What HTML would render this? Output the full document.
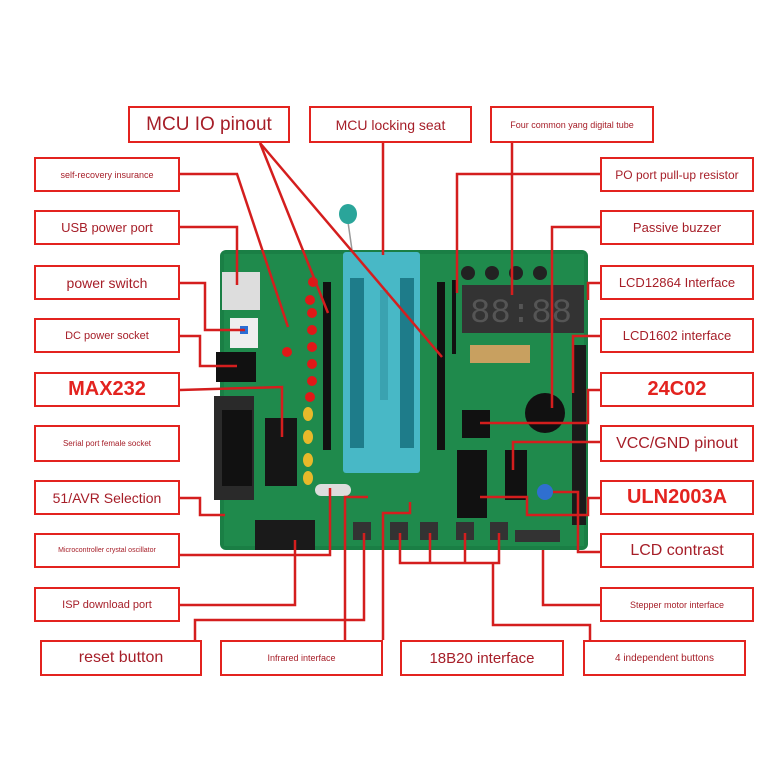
<!DOCTYPE html>
<html><head><meta charset="utf-8"><style>
body{margin:0;background:#fff;}
.w{position:relative;width:780px;height:780px;overflow:hidden;font-family:"Liberation Sans",sans-serif;}
.b{position:absolute;border:2.5px solid #e3231f;background:#fff;box-sizing:border-box;display:flex;align-items:center;justify-content:center;color:#a61e28;font-size:13px;text-align:center;}
.s{font-size:9px;}
.L{font-size:19px;}
.R{font-size:20px;font-weight:bold;color:#e3231f;}
svg{position:absolute;left:0;top:0;}
</style></head><body><div class="w">
<svg width="780" height="780">
<rect x="220" y="250" width="368" height="300" rx="6" fill="#1a7f45"/>
<rect x="224" y="254" width="360" height="292" fill="#1f8a4c"/>
<line x1="348" y1="222" x2="352" y2="250" stroke="#999" stroke-width="1.5"/>
<ellipse cx="348" cy="214" rx="9" ry="10" fill="#2aa59a"/>
<rect x="222" y="272" width="38" height="38" fill="#ddd"/>
<rect x="230" y="318" width="28" height="30" fill="#eee"/><rect x="240" y="326" width="8" height="8" fill="#2a6fd6"/>
<rect x="216" y="352" width="40" height="30" fill="#111"/>
<rect x="214" y="396" width="40" height="104" fill="#2a2a2a"/><rect x="222" y="410" width="30" height="76" fill="#111"/>
<rect x="265" y="418" width="32" height="68" fill="#151515"/>
<rect x="255" y="520" width="60" height="30" fill="#1a1a1a"/>
<g fill="#e01818"><circle cx="313" cy="282" r="5"/><circle cx="310" cy="300" r="5"/><circle cx="312" cy="313" r="5"/><circle cx="312" cy="330" r="5"/><circle cx="312" cy="347" r="5"/><circle cx="312" cy="364" r="5"/><circle cx="312" cy="381" r="5"/><circle cx="310" cy="397" r="5"/><circle cx="287" cy="352" r="5"/></g>
<g fill="#e8b92a"><ellipse cx="308" cy="414" rx="5" ry="7"/><ellipse cx="308" cy="437" rx="5" ry="7"/><ellipse cx="308" cy="460" rx="5" ry="7"/><ellipse cx="308" cy="478" rx="5" ry="7"/></g>
<rect x="323" y="282" width="8" height="168" fill="#111"/>
<rect x="437" y="282" width="8" height="168" fill="#111"/>
<rect x="452" y="280" width="4" height="74" fill="#111"/>
<rect x="343" y="252" width="77" height="221" rx="3" fill="#48b8c6"/>
<g fill="#1e7c8a"><rect x="350" y="278" width="14" height="170"/><rect x="400" y="278" width="14" height="170"/></g>
<rect x="380" y="290" width="8" height="110" fill="#3aa2b0"/>
<rect x="462" y="285" width="122" height="48" fill="#333"/>
<text x="470" y="322" font-size="34" fill="#555" font-family="Liberation Mono">88:88</text>
<g fill="#222"><circle cx="468" cy="273" r="7"/><circle cx="492" cy="273" r="7"/><circle cx="516" cy="273" r="7"/><circle cx="540" cy="273" r="7"/></g>
<rect x="470" y="345" width="60" height="18" fill="#c8a060"/>
<circle cx="545" cy="413" r="20" fill="#111"/>
<rect x="462" y="410" width="28" height="28" fill="#111"/>
<rect x="457" y="450" width="30" height="68" fill="#111"/>
<rect x="505" y="450" width="22" height="50" fill="#111"/>
<rect x="572" y="345" width="14" height="180" fill="#1a1a1a"/>
<circle cx="545" cy="492" r="8" fill="#2f6fd0"/>
<rect x="315" y="484" width="36" height="12" rx="6" fill="#ddd"/>
<g fill="#333"><rect x="353" y="522" width="18" height="18"/><rect x="390" y="522" width="18" height="18"/><rect x="420" y="522" width="18" height="18"/><rect x="456" y="522" width="18" height="18"/><rect x="490" y="522" width="18" height="18"/><rect x="515" y="530" width="45" height="12"/></g>
<g stroke="#d41e1e" stroke-width="2.5" fill="none">
<polyline points="260,143 328,313"/><polyline points="260,143 442,357"/>
<polyline points="383,143 383,255"/>
<polyline points="512,143 512,295"/>
<polyline points="600,174 457,174 457,293"/>
<polyline points="600,227 552,227 552,408"/>
<polyline points="600,283 588,283 588,300"/>
<polyline points="600,336 573,336 573,393"/>
<polyline points="600,390 588,390 588,423 480,423"/>
<polyline points="600,442 513,442 513,470"/>
<polyline points="480,497 527,497 527,515 588,515 588,498 600,498"/>
<polyline points="600,552 578,552 578,492 553,492"/>
<polyline points="600,605 543,605 543,550"/>
<polyline points="400,533 400,563 499,563 499,533"/><polyline points="430,533 430,563"/><polyline points="465,533 465,563"/>
<polyline points="493,563 493,625 590,625 590,640"/>
<polyline points="410,502 410,513 383,513 383,640"/>
<polyline points="368,497 345,497 345,640"/>
<polyline points="364,533 364,620 195,620 195,640"/>
<polyline points="180,605 295,605 295,540"/>
<polyline points="180,555 330,555 330,488"/>
<polyline points="180,498 200,498 200,515 225,515"/>
<polyline points="180,390 282,387 282,437"/>
<polyline points="180,336 200,336 200,366 237,366"/>
<polyline points="180,283 205,283 205,330 245,330"/>
<polyline points="180,227 237,227 237,285"/>
<polyline points="180,174 237,174 288,327"/>
</g>
</svg>
<div class="b L" style="left:128px;top:106px;width:162px;height:37px">MCU IO pinout</div>
<div class="b" style="left:309px;top:106px;width:163px;height:37px;font-size:14px">MCU locking seat</div>
<div class="b s" style="left:490px;top:106px;width:164px;height:37px">Four common yang digital tube</div>
<div class="b s" style="left:34px;top:157px;width:146px;height:35px">self-recovery insurance</div>
<div class="b" style="left:34px;top:210px;width:146px;height:35px">USB power port</div>
<div class="b" style="left:34px;top:265px;width:146px;height:35px;font-size:14px">power switch</div>
<div class="b" style="left:34px;top:318px;width:146px;height:35px;font-size:11px">DC power socket</div>
<div class="b R" style="left:34px;top:372px;width:146px;height:35px">MAX232</div>
<div class="b s" style="left:34px;top:425px;width:146px;height:37px;font-size:8px">Serial port female socket</div>
<div class="b" style="left:34px;top:480px;width:146px;height:35px;font-size:14px">51/AVR Selection</div>
<div class="b s" style="left:34px;top:533px;width:146px;height:35px;font-size:7px">Microcontroller crystal oscillator</div>
<div class="b" style="left:34px;top:587px;width:146px;height:35px;font-size:11px">ISP download port</div>
<div class="b" style="left:600px;top:157px;width:154px;height:35px;font-size:12px">PO port pull-up resistor</div>
<div class="b" style="left:600px;top:210px;width:154px;height:35px">Passive buzzer</div>
<div class="b" style="left:600px;top:265px;width:154px;height:35px">LCD12864 Interface</div>
<div class="b" style="left:600px;top:318px;width:154px;height:35px">LCD1602 interface</div>
<div class="b R" style="left:600px;top:372px;width:154px;height:35px">24C02</div>
<div class="b" style="left:600px;top:425px;width:154px;height:37px;font-size:16px">VCC/GND pinout</div>
<div class="b R" style="left:600px;top:480px;width:154px;height:35px">ULN2003A</div>
<div class="b" style="left:600px;top:533px;width:154px;height:35px;font-size:16px">LCD contrast</div>
<div class="b s" style="left:600px;top:587px;width:154px;height:35px">Stepper motor interface</div>
<div class="b" style="left:40px;top:640px;width:162px;height:36px;font-size:16px">reset button</div>
<div class="b s" style="left:220px;top:640px;width:163px;height:36px">Infrared interface</div>
<div class="b" style="left:400px;top:640px;width:164px;height:36px;font-size:15px">18B20 interface</div>
<div class="b s" style="left:583px;top:640px;width:163px;height:36px;font-size:10px">4 independent buttons</div>
</div></body></html>
